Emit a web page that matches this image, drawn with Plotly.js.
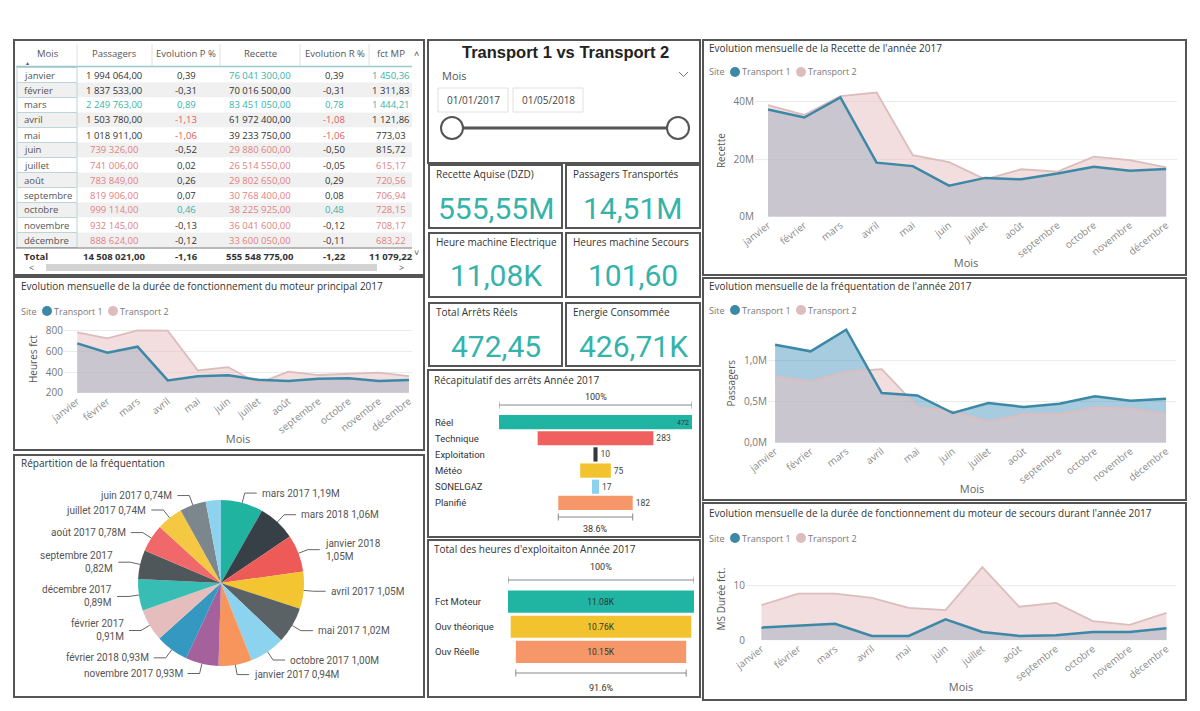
<!DOCTYPE html>
<html><head><meta charset="utf-8">
<script src="https://cdn.plot.ly/plotly-3.0.1.min.js"></script>
<style>html,body{margin:0;padding:0;background:#fff}#chart{width:1200px;height:711px}</style>
</head><body><div id="chart"></div>
<script>
// ---------------- DATA ----------------
const months = ['janvier','février','mars','avril','mai','juin','juillet','août','septembre','octobre','novembre','décembre'];

const tableHeader = ['Mois','Passagers','Evolution P %','Recette','Evolution R %','fct MP'];
const tablePassagers = [1994064,1837533,2249763,1503780,1018911,739326,741006,783849,819906,999114,932145,888624];
const tableEvolP = [0.39,-0.31,0.89,-1.13,-1.06,-0.52,0.02,0.26,0.07,0.46,-0.13,-0.12];
const tableRecette = [76041300,70016500,83451050,61972400,39233750,29880600,26514550,29802650,30768400,38225925,36041600,33600050];
const tableEvolR = [0.39,-0.31,0.78,-1.08,-1.06,-0.50,-0.05,0.29,0.08,0.48,-0.12,-0.11];
const tableFctMP = [1450.36,1311.83,1444.21,1121.86,773.03,815.72,615.17,720.56,706.94,728.15,708.17,683.22];
const totalEvolP = -1.16, totalEvolR = -1.22;

const kpiTitles = ['Recette Aquise (DZD)','Passagers Transportés','Heure machine Electrique','Heures machine Secours','Total Arrêts Réels','Energie Consommée'];
const kpiValues = [555548775, 14508021, 11079.22, 101.60, 472.45, 426710];

const recetteT1 = [37.3,34.5,41.5,18.8,17.6,10.8,13.5,13.0,15.0,17.4,16.0,16.6];
const recetteT2 = [38.8,35.4,41.95,43.2,21.4,19.0,13.0,16.5,15.7,20.9,19.7,17.2];
const moteurT1 = [677,587,645,319,358,368,325,313,335,339,313,323];
const moteurT2 = [784,726,803,800,415,448,290,403,371,384,395,360];
const freqT1 = [1.195,1.114,1.378,0.606,0.577,0.362,0.484,0.435,0.476,0.565,0.512,0.537];
const freqT2 = [0.809,0.748,0.87,0.898,0.44,0.382,0.26,0.35,0.35,0.43,0.42,0.352];
const secoursT1 = [2.3,2.7,3.0,0.8,0.8,3.8,1.5,0.8,0.9,1.5,1.5,2.2];
const secoursT2 = [6.4,8.5,8.5,7.7,5.9,5.5,13.3,6.1,6.8,3.5,2.8,5.0];

const pieLabels = ['mars 2017','mars 2018','janvier 2018','avril 2017','mai 2017','octobre 2017','janvier 2017','novembre 2017','février 2018','février 2017','décembre 2017','septembre 2017','août 2017','juillet 2017','juin 2017','avril 2018'];
const pieValues = [1.19,1.06,1.05,1.05,1.02,1.00,0.94,0.93,0.93,0.91,0.89,0.82,0.78,0.74,0.74,0.43];
const pieWrap = ['janvier 2018','septembre 2017','décembre 2017','février 2017'];

const arretsCats = ['Réel','Technique','Exploitation','Météo','SONELGAZ','Planifié'];
const arretsValues = [472,283,10,75,17,182];
const heuresCats = ['Fct Moteur','Ouv théorique','Ouv Réelle'];
const heuresValues = [11080,10760,10150];

// ---------------- STYLE / HELPERS ----------------
const W=1200,H=711;
const X=p=>p/W, Y=p=>1-p/H;
const FONT='"Segoe UI","Open Sans",sans-serif';
const DIN='Roboto, "Open Sans", sans-serif';
const TEAL='#35b3aa', PINK='#e2807f', RED='#e05a5a', DARK='#333333';
const T1LINE='#3c88a6', T2LINE='#dcbcbc';
const T1FILL='rgba(81,153,191,0.5)', T2FILL='rgba(230,192,192,0.53)';

function txt(x,y,text,o){return Object.assign({xref:'paper',yref:'paper',x:X(x),y:Y(y),text:text,showarrow:false,xanchor:'left',yanchor:'middle',font:{size:10,color:'#333',family:FONT}},o||{});}
function rect(x0,y0,x1,y1,color,width,fill){return {type:'rect',xref:'paper',yref:'paper',x0:X(x0),x1:X(x1),y0:Y(y1),y1:Y(y0),line:{color:color,width:width},fillcolor:fill||'rgba(0,0,0,0)'};}
function circ(cx,cy,r,color,lw,fill){return {type:'circle',xref:'paper',yref:'paper',x0:X(cx-r),x1:X(cx+r),y0:Y(cy+r),y1:Y(cy-r),line:{color:color,width:lw},fillcolor:fill};}
function lineP(x0,y0,x1,y1,color,width){return {type:'line',xref:'paper',yref:'paper',x0:X(x0),x1:X(x1),y0:Y(y0),y1:Y(y1),line:{color:color,width:width}};}
function fr(v,d){const s=Math.abs(v).toFixed(d);let p=s.split('.');let i=p[0].replace(/\B(?=(\d{3})+(?!\d))/g,' ');return (v<0?'-':'')+i+(p[1]?','+p[1]:'');}
function fmtKpi(v){if(v>=1e6)return (v/1e6).toFixed(2).replace('.',',')+'M';if(v>=1e4)return (v/1e3).toFixed(2).replace('.',',')+'K';return v.toFixed(2).replace('.',',');}
const sum=a=>a.reduce((s,v)=>s+v,0);

const traces=[], shapes=[], annotations=[];

// ---------------- TABLE (drawn as text grid) ----------------
const cPass=v=>v>=2e6?TEAL:(v<1e6?PINK:DARK);
const cRec=v=>v>=75e6?TEAL:(v<39e6?PINK:DARK);
const cEvo=v=>v>0.4?TEAL:(v<-1?RED:DARK);
const cFct=v=>v>=1400?TEAL:(v<750?PINK:DARK);
const columns=[
  {vals:months, col:()=> '#555', total:'Total'},
  {vals:tablePassagers.map(v=>fr(v,2)), col:i=>cPass(tablePassagers[i]), total:fr(sum(tablePassagers),2)},
  {vals:tableEvolP.map(v=>fr(v,2)), col:i=>cEvo(tableEvolP[i]), total:fr(totalEvolP,2)},
  {vals:tableRecette.map(v=>fr(v,2)), col:i=>cRec(tableRecette[i]), total:fr(sum(tableRecette),2)},
  {vals:tableEvolR.map(v=>fr(v,2)), col:i=>cEvo(tableEvolR[i]), total:fr(totalEvolR,2)},
  {vals:tableFctMP.map(v=>fr(v,2)), col:i=>cFct(tableFctMP[i]), total:fr(sum(tableFctMP),2)}
];
const colEdges=[16,77,152,220,300,369,412];
const colTextX=[22,114,186,260,334,391];
const rowTop=67.5, rowH=15;
months.forEach((m,i)=>{
  const y0=rowTop+i*rowH;
  shapes.push(rect(16,y0,412,y0+rowH,'rgba(0,0,0,0)',0,i%2?'#f0f0f0':'#ffffff'));
  shapes.push(rect(17,y0,77,y0+rowH,'#bcd5d8',1));
});
shapes.push(lineP(16,66.5,412,66.5,'#9cc9cc',1.5));
for(let c=1;c<colEdges.length-1;c++) shapes.push(lineP(colEdges[c],44,colEdges[c],66,'#e0e0e0',1));
shapes.push(lineP(16,248,412,248,'#777',1));
tableHeader.forEach((h,c)=>annotations.push(txt(c===0?48:(colEdges[c]+colEdges[c+1])/2,54,h,{xanchor:'center',font:{size:9.5,color:'#555',family:FONT}})));
annotations.push(txt(27,63,'▲',{xanchor:'center',font:{size:5,color:'#555',family:FONT}}));
columns.forEach((col,c)=>{
  const xa=c===0?'left':'center';
  col.vals.forEach((v,i)=>annotations.push(txt(colTextX[c],rowTop+i*rowH+rowH/2,v,{xanchor:xa,font:{size:9.5,color:col.col(i),family:FONT}})));
  annotations.push(txt(colTextX[c],256,'<b>'+col.total+'</b>',{xanchor:xa,font:{size:9.5,color:DARK,family:FONT}}));
});
shapes.push(rect(46,264,377,271,'#d3d3d3',0,'#d3d3d3'));
annotations.push(txt(31,267.5,'<',{xanchor:'center',font:{size:9,color:'#555',family:FONT}}));
annotations.push(txt(401,267.5,'>',{xanchor:'center',font:{size:9,color:'#555',family:FONT}}));
annotations.push(txt(417,53,'˄',{xanchor:'center',font:{size:9,color:'#555',family:FONT}}));
annotations.push(txt(417,252,'˅',{xanchor:'center',font:{size:9,color:'#555',family:FONT}}));

// ---------------- PANELS ----------------
const panels=[[14,40,424,275],[428,40,700,163],[428,370,700,537],[428,540,700,697],[703,40,1186,275],[14,277,424,450],[703,278,1186,500],[14,455,424,697],[703,503,1186,700],
[429,165,562,228],[566,165,700,228],[429,233,562,297],[566,233,700,297],[429,303,562,366],[566,303,700,366]];
panels.forEach(p=>shapes.push(rect(p[0],p[1],p[2],p[3],'#555',2)));

// ---------------- SLICER ----------------
annotations.push(txt(565,52,'<b>Transport 1 vs Transport 2</b>',{xanchor:'center',font:{size:16.5,color:'#222',family:'"Liberation Sans",Arial,sans-serif'}}));
annotations.push(txt(440,75,'Mois',{font:{size:11,color:'#555',family:FONT}}));
shapes.push({type:'path',xref:'paper',yref:'paper',path:`M ${X(679)},${Y(72)} L ${X(683.5)},${Y(76.5)} L ${X(688)},${Y(72)}`,line:{color:'#777',width:1}});
shapes.push(rect(438,88,508,112,'#e0e0e0',1));
shapes.push(rect(513,88,583,112,'#e0e0e0',1));
annotations.push(txt(473,100,'01/01/2017',{xanchor:'center',font:{size:10,color:'#444',family:FONT}}));
annotations.push(txt(548,100,'01/05/2018',{xanchor:'center',font:{size:10,color:'#444',family:FONT}}));
shapes.push(lineP(452,128,678,128,'#555',3));
shapes.push(circ(452,128,11,'#555',2,'#fff'));
shapes.push(circ(678,128,11,'#555',2,'#fff'));

// ---------------- KPI CARDS ----------------
const kpiPos=[[429,165,562],[566,165,700],[429,233,562],[566,233,700],[429,303,562],[566,303,700]];
kpiTitles.forEach((t,i)=>{
  const p=kpiPos[i];
  annotations.push(txt(p[0]+5,p[1]+9,t,{font:{size:10,color:'#333',family:FONT}}));
  annotations.push(txt((p[0]+p[2])/2,p[1]+43,fmtKpi(kpiValues[i]),{xanchor:'center',font:{size:30,color:TEAL,family:DIN}}));
});

// ---------------- AREA CHARTS ----------------
function area(xa,ya,t1,t2){
  const base={type:'scatter',x:months,xaxis:xa,yaxis:ya,hoverinfo:'skip',showlegend:false};
  traces.push(Object.assign({},base,{mode:'none',y:t1,fill:'tozeroy',fillcolor:T1FILL}));
  traces.push(Object.assign({},base,{mode:'none',y:t2,fill:'tozeroy',fillcolor:T2FILL}));
  traces.push(Object.assign({},base,{mode:'lines',y:t2,line:{color:T2LINE,width:1.8}}));
  traces.push(Object.assign({},base,{mode:'lines',y:t1,line:{color:T1LINE,width:2.5}}));
}
area('x','y',recetteT1,recetteT2);
area('x2','y2',moteurT1,moteurT2);
area('x3','y3',freqT1,freqT2);
area('x4','y4',secoursT1,secoursT2);

function xAx(x0,x1,range,anchor){return {domain:[X(x0),X(x1)],anchor:anchor,type:'category',range:range,showgrid:false,zeroline:false,showline:false,ticks:'',tickangle:-38,tickfont:{size:10,color:'#8a8a8a',family:FONT},title:{text:'Mois',font:{size:11,color:'#666',family:FONT},standoff:0},fixedrange:true};}
function yAx(y0,y1,range,dtick,title,o){return Object.assign({domain:[Y(y0),Y(y1)],range:range,dtick:dtick,showgrid:true,gridcolor:'#ebebeb',gridwidth:1,zeroline:false,showline:false,ticks:'',tickfont:{size:10,color:'#777',family:FONT},title:{text:title,font:{size:10,color:'#555',family:FONT},standoff:6},fixedrange:true},o||{});}

function chartHead(x,yTitle,yLeg,title){
  annotations.push(txt(x,yTitle,title,{font:{size:10,color:'#333',family:FONT}}));
  annotations.push(txt(x,yLeg,'Site',{font:{size:9,color:'#777',family:FONT}}));
  shapes.push(circ(x+28,yLeg,5,T1LINE,0,T1LINE));
  annotations.push(txt(x+33,yLeg,'Transport 1',{font:{size:9,color:'#777',family:FONT}}));
  shapes.push(circ(x+94,yLeg,5,T2LINE,0,T2LINE));
  annotations.push(txt(x+99,yLeg,'Transport 2',{font:{size:9,color:'#777',family:FONT}}));
}
chartHead(707,48,72,"Evolution mensuelle de la Recette de l'année 2017");
chartHead(19,286,311,'Evolution mensuelle de la durée de fonctionnement du moteur principal 2017');
chartHead(707,286,310,"Evolution mensuelle de la fréquentation de l'année 2017");
chartHead(707,513,538,"Evolution mensuelle de la durée de fonctionnement du moteur de secours durant l'année 2017");

// ---------------- PIE ----------------
const pcx=221, pcy=583, pr=83;
const pieColors=['#1fb3a0','#374046','#ee5a58','#f3c530','#5b6266','#8bd3ee','#f7955d','#a4619c','#3598c0','#e6bdbd','#38bdb4','#4f575b','#f0686a','#f4c842','#7b878c','#8ed3ee'];
traces.push({type:'pie',labels:pieLabels,values:pieValues,sort:false,direction:'clockwise',rotation:0,
  domain:{x:[X(pcx-pr),X(pcx+pr)],y:[Y(pcy+pr),Y(pcy-pr)]},textinfo:'none',hoverinfo:'skip',showlegend:false,
  marker:{colors:pieColors,line:{width:0}}});
annotations.push(txt(19,463,'Répartition de la fréquentation',{font:{size:10,color:'#333',family:FONT}}));
const pieTotal=sum(pieValues);
let cum=0;
pieLabels.forEach((lab,i)=>{
  const v=pieValues[i]; const th=2*Math.PI*(cum+v/2)/pieTotal; cum+=v;
  if(v/pieTotal<0.035) return;
  const s=Math.sin(th), c=Math.cos(th), side=s>=0?1:-1;
  const ex=pcx+pr*s, ey=pcy-pr*c, px=pcx+(pr+10)*s, py=pcy-(pr+10)*c, tx=px+side*12;
  shapes.push({type:'path',xref:'paper',yref:'paper',path:`M ${X(ex)},${Y(ey)} L ${X(px)},${Y(py)} L ${X(tx)},${Y(py)}`,line:{color:'#666',width:1}});
  const val=v.toFixed(2).replace('.',',')+'M';
  const t=pieWrap.indexOf(lab)>=0?lab+'<br>'+val:lab+' '+val;
  annotations.push(txt(tx+side*3,py,t,{xanchor:side>0?'left':'right',align:side>0?'left':'right',font:{size:10,color:'#555',family:DIN}}));
});

// ---------------- FUNNELS ----------------
const arrColors=['#20b5a3','#f0605f','#333a3f','#f2c32e','#8dd2ec','#f6976a'];
traces.push({type:'funnel',x:arretsValues,y:arretsCats,xaxis:'x5',yaxis:'y5',marker:{color:arrColors},connector:{visible:false},
  textinfo:'value',textposition:arretsValues.map((v,i)=>i===0?'inside':'outside'),insidetextanchor:'end',
  textfont:{size:8.5,color:'#333',family:DIN},insidetextfont:{size:8.5,color:'#333',family:DIN},outsidetextfont:{size:8.5,color:'#444',family:DIN},hoverinfo:'skip',showlegend:false,cliponaxis:false});
const heuColors=['#20b5a3','#f2c32e','#f6976a'];
traces.push({type:'funnel',x:heuresValues,y:heuresCats,xaxis:'x6',yaxis:'y6',marker:{color:heuColors},connector:{visible:false},
  text:heuresValues.map(v=>(v/1000).toFixed(2)+'K'),textinfo:'text',textposition:'inside',insidetextanchor:'middle',
  insidetextfont:{size:8.5,color:'#333',family:DIN},hoverinfo:'skip',showlegend:false});
annotations.push(txt(432,380,'Récapitulatif des arrêts Année 2017',{font:{size:10,color:'#333',family:FONT}}));
annotations.push(txt(432,549,"Total des heures d'exploitaiton Année 2017",{font:{size:10,color:'#333',family:FONT}}));
arretsCats.forEach((c,i)=>annotations.push({xref:'paper',yref:'y5',x:X(433),y:i,text:c,showarrow:false,xanchor:'left',yanchor:'middle',font:{size:9.5,color:'#333',family:DIN}}));
heuresCats.forEach((c,i)=>annotations.push({xref:'paper',yref:'y6',x:X(433),y:i,text:c,showarrow:false,xanchor:'left',yanchor:'middle',font:{size:9.5,color:'#333',family:DIN}}));

function bracket(xref,half,yPx,label,labelY){
  shapes.push({type:'line',xref:xref,yref:'paper',x0:-half,x1:half,y0:Y(yPx),y1:Y(yPx),line:{color:'#888',width:1}});
  shapes.push({type:'line',xref:xref,yref:'paper',x0:-half,x1:-half,y0:Y(yPx-3.5),y1:Y(yPx+3.5),line:{color:'#888',width:1}});
  shapes.push({type:'line',xref:xref,yref:'paper',x0:half,x1:half,y0:Y(yPx-3.5),y1:Y(yPx+3.5),line:{color:'#888',width:1}});
  annotations.push({xref:xref,yref:'paper',x:0,y:Y(labelY),text:label,showarrow:false,xanchor:'center',yanchor:'middle',font:{size:9,color:'#333',family:DIN}});
}
const aMax=arretsValues[0], aLast=arretsValues[arretsValues.length-1];
bracket('x5',aMax/2,405,'100%',397);
bracket('x5',aLast/2,517,(aLast/aMax*100).toFixed(1)+'%',529);
const hMax=heuresValues[0], hLast=heuresValues[heuresValues.length-1];
bracket('x6',hMax/2,580,'100%',567);
bracket('x6',hLast/2,673,(hLast/hMax*100).toFixed(1)+'%',688);

// ---------------- LAYOUT ----------------
const hidden={visible:false,fixedrange:true};
const layout={
  width:W,height:H,margin:{l:0,r:0,t:0,b:0},paper_bgcolor:'#fff',plot_bgcolor:'rgba(0,0,0,0)',
  separators:', ',showlegend:false,font:{family:FONT},funnelgap:0.12,
  xaxis:xAx(755,1177,[-0.36,11.3],'y'),
  yaxis:yAx(216.7,84.5,[0,46],20,'Recette',{anchor:'x',ticksuffix:'M',tickformat:'.0f'}),
  xaxis2:xAx(64,412,[-0.44,11.1],'y2'),
  yaxis2:yAx(392.7,325.5,[200,850],200,'Heures fct',{anchor:'x2'}),
  xaxis3:xAx(768,1176,[-0.2,11.28],'y3'),
  yaxis3:yAx(442.7,323.8,[0,1.45],0.5,'Passagers',{anchor:'x3',ticksuffix:'M',tickformat:'.1f'}),
  xaxis4:xAx(746,1176,[-0.42,11.26],'y4'),
  yaxis4:yAx(640.3,557.8,[0,15],10,'MS Durée fct.',{anchor:'x4'}),
  xaxis5:Object.assign({domain:[X(499),X(692)],anchor:'y5',range:[-aMax/2,aMax/2]},hidden),
  yaxis5:{domain:[Y(511),Y(414)],anchor:'x5',type:'category',autorange:'reversed',visible:false,fixedrange:true},
  xaxis6:Object.assign({domain:[X(508),X(694)],anchor:'y6',range:[-hMax/2,hMax/2]},hidden),
  yaxis6:{domain:[Y(664.5),Y(589)],anchor:'x6',type:'category',autorange:'reversed',visible:false,fixedrange:true},
  shapes:shapes,annotations:annotations
};
Plotly.newPlot('chart',traces,layout,{displayModeBar:false,staticPlot:true});
</script></body></html>
